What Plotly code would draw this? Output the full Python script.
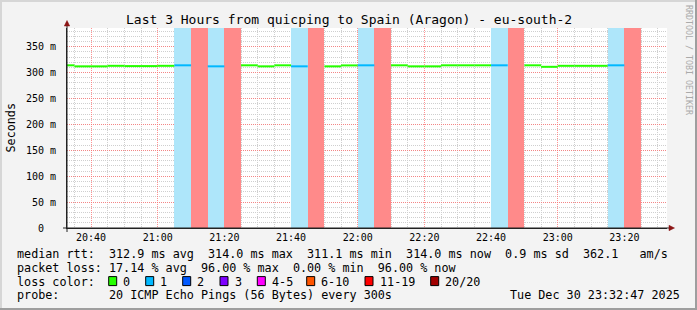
import plotly.graph_objects as go
import pandas as pd

# ---------------- data ----------------
STEP_START = [
    "2025-12-30 20:30", "2025-12-30 20:35", "2025-12-30 20:40", "2025-12-30 20:45",
    "2025-12-30 20:50", "2025-12-30 20:55", "2025-12-30 21:00", "2025-12-30 21:05",
    "2025-12-30 21:10", "2025-12-30 21:15", "2025-12-30 21:20", "2025-12-30 21:25",
    "2025-12-30 21:30", "2025-12-30 21:35", "2025-12-30 21:40", "2025-12-30 21:45",
    "2025-12-30 21:50", "2025-12-30 21:55", "2025-12-30 22:00", "2025-12-30 22:05",
    "2025-12-30 22:10", "2025-12-30 22:15", "2025-12-30 22:20", "2025-12-30 22:25",
    "2025-12-30 22:30", "2025-12-30 22:35", "2025-12-30 22:40", "2025-12-30 22:45",
    "2025-12-30 22:50", "2025-12-30 22:55", "2025-12-30 23:00", "2025-12-30 23:05",
    "2025-12-30 23:10", "2025-12-30 23:15", "2025-12-30 23:20",
]
MEDIAN_MS = [
    314.0, 312.0, 312.0, 313.0, 312.5, 312.5, 313.0, 314.0,
    None, 312.0, None, 314.0, 312.0, 314.0, 312.0, None,
    312.0, 313.8, 314.0, None, 314.0, 312.0, 312.0, 314.0,
    314.0, 314.0, 314.0, None, 314.0, 311.1, 313.0, 313.0,
    313.0, 314.0, None,
]
LOSS_PCT = [
    0, 0, 0, 0, 0, 0, 0, 5,
    96, 5, 96, 0, 0, 0, 5, 96,
    0, 0, 5, 96, 0, 0, 0, 0,
    0, 0, 5, 96, 0, 0, 0, 0,
    0, 5, 96,
]
X_START = "2025-12-30 20:32:47"
X_END = "2025-12-30 23:32:47"
Y_TOP = 386

Y_TICKS = [0, 50, 100, 150, 200, 250, 300, 350]
Y_TICKTEXT = ["0\u00a0\u00a0", "50 m", "100 m", "150 m", "200 m", "250 m", "300 m", "350 m"]

LOSS_LABELS = ["0", "1", "2", "3", "4-5", "6-10", "11-19", "20/20"]
LOSS_COLORS = ["#26ff00", "#00b8ff", "#0059ff", "#7e00ff", "#ff00ff", "#ff5500", "#ff0000", "#a10000"]

TITLE = "Last 3 Hours from quicping to Spain (Aragon) - eu-south-2"
LINE_RTT = "median rtt:  312.9 ms avg  314.0 ms max  311.1 ms min  314.0 ms now  0.9 ms sd  362.1   am/s"
LINE_LOSS = "packet loss: 17.14 % avg  96.00 % max  0.00 % min  96.00 % now"
LINE_PROBE = "probe:       20 ICMP Echo Pings (56 Bytes) every 300s"
DATE_TEXT = "Tue Dec 30 23:32:47 2025"

# ---------------- helpers ----------------
L, T, W, H = 67, 28, 600, 200
FONT = "DejaVu Sans Mono"


def px(x):
    return (x - L) / W


def py(y):
    return (T + H - y) / H


def nb(s):
    return s.replace(" ", "\u00a0")


def loss_index(p):
    n = round(p / 100 * 20)
    if n <= 0:
        return 0
    if n == 1:
        return 1
    if n == 2:
        return 2
    if n == 3:
        return 3
    if n <= 5:
        return 4
    if n <= 10:
        return 5
    if n <= 19:
        return 6
    return 7


LIGHT = {1: "#aee6fa", 6: "#ff8a8a"}

starts = pd.to_datetime(STEP_START)
ends = starts + pd.Timedelta(minutes=5)
centers = starts + pd.Timedelta(seconds=150)

fig = go.Figure()

# loss background bars
bx, bc = [], []
for c, p in zip(centers, LOSS_PCT):
    if p > 0:
        bx.append(c)
        bc.append(LIGHT.get(loss_index(p), "#ff8a8a"))
fig.add_trace(go.Bar(x=bx, y=[Y_TOP] * len(bx), width=300000, marker=dict(color=bc, line=dict(width=0)),
                     hoverinfo="skip", showlegend=False))

# median line, one trace per loss colour
groups = {}
for s, e, v, p in zip(starts, ends, MEDIAN_MS, LOSS_PCT):
    if v is None:
        continue
    k = loss_index(p)
    gx, gy = groups.setdefault(k, ([], []))
    gx += [s, e, None]
    gy += [v, v, None]
for k, (gx, gy) in groups.items():
    fig.add_trace(go.Scatter(x=gx, y=gy, mode="lines", line=dict(color=LOSS_COLORS[k], width=2),
                             hoverinfo="skip", showlegend=False))

GRID = "#cfcfcf"
MGRID = "rgba(255,110,110,0.75)"

fig.update_layout(
    width=697, height=310,
    margin=dict(l=L, r=697 - L - W, t=T, b=310 - T - H, pad=0),
    paper_bgcolor="#f3f3f3", plot_bgcolor="#ffffff",
    showlegend=False, barmode="overlay", bargap=0,
    font=dict(family=FONT, size=10, color="#000000"),
)
fig.update_xaxes(
    type="date", range=[X_START, X_END], tickformat="%H:%M",
    tick0="2025-12-30 20:40", dtick=1200000,
    showgrid=True, gridcolor=MGRID, griddash="1px,1px", gridwidth=1,
    minor=dict(dtick=300000, showgrid=True, gridcolor=GRID, griddash="1px,1px", gridwidth=1),
    showline=True, linecolor="#222222", linewidth=1, zeroline=False, ticks="",
    tickfont=dict(family=FONT, size=10, color="#000000"), fixedrange=True,
)
fig.update_yaxes(
    range=[0, Y_TOP], tickvals=Y_TICKS, ticktext=Y_TICKTEXT,
    showgrid=True, gridcolor=MGRID, griddash="1px,1px", gridwidth=1,
    minor=dict(dtick=10, showgrid=True, gridcolor=GRID, griddash="1px,1px", gridwidth=1),
    showline=True, linecolor="#222222", linewidth=1, zeroline=False, ticks="",
    ticklabelstandoff=8,
    tickfont=dict(family=FONT, size=10, color="#000000"), fixedrange=True,
)

shapes = []
# frame 3D border
shapes.append(dict(type="rect", xref="paper", yref="paper", x0=px(0), x1=px(697), y0=py(0), y1=py(2),
                   fillcolor="#d6d6d6", line=dict(width=0), layer="above"))
shapes.append(dict(type="rect", xref="paper", yref="paper", x0=px(0), x1=px(2), y0=py(0), y1=py(310),
                   fillcolor="#d6d6d6", line=dict(width=0), layer="above"))
shapes.append(dict(type="rect", xref="paper", yref="paper", x0=px(695), x1=px(697), y0=py(0), y1=py(310),
                   fillcolor="#9e9e9e", line=dict(width=0), layer="above"))
shapes.append(dict(type="rect", xref="paper", yref="paper", x0=px(0), x1=px(697), y0=py(308), y1=py(310),
                   fillcolor="#9e9e9e", line=dict(width=0), layer="above"))
# axis extensions
shapes.append(dict(type="line", xref="paper", yref="paper", x0=px(67), x1=px(67), y0=py(22), y1=py(232),
                   line=dict(color="#222222", width=1), layer="above"))
shapes.append(dict(type="line", xref="paper", yref="paper", x0=px(63), x1=px(671), y0=py(228), y1=py(228),
                   line=dict(color="#222222", width=1), layer="above"))
# arrows
shapes.append(dict(type="path", xref="paper", yref="paper",
                   path=f"M {px(64.3)},{py(26)} L {px(67)},{py(20.5)} L {px(69.7)},{py(26)} Z",
                   fillcolor="#8b1414", line=dict(color="#8b1414", width=0.5), layer="above"))
shapes.append(dict(type="path", xref="paper", yref="paper",
                   path=f"M {px(669)},{py(225.3)} L {px(674.5)},{py(228)} L {px(669)},{py(230.7)} Z",
                   fillcolor="#8b1414", line=dict(color="#8b1414", width=0.5), layer="above"))

# loss colour boxes
BOX_X = [108.7, 145.7, 182.7, 220.0, 257.3, 306.7, 365.0, 430.7]
for bxp, col in zip(BOX_X, LOSS_COLORS):
    shapes.append(dict(type="rect", xref="paper", yref="paper", x0=px(bxp), x1=px(bxp + 8),
                       y0=py(285.6), y1=py(276.6), fillcolor=col, line=dict(color="#000000", width=1),
                       layer="above"))
fig.update_layout(shapes=shapes)

ann = []


def text(x, y, s, size=11.75, xanchor="left", color="#000000", angle=0):
    ann.append(dict(xref="paper", yref="paper", x=px(x), y=py(y), text=nb(s), showarrow=False,
                    xanchor=xanchor, yanchor="middle", borderpad=0, textangle=angle,
                    font=dict(family=FONT, size=size, color=color)))


text(348.5, 19.5, TITLE, size=13, xanchor="center")
text(15.5, 254.2, LINE_RTT)
text(15.5, 267.9, LINE_LOSS)
text(15.5, 281.6, "loss color:")
for bxp, lab in zip(BOX_X, LOSS_LABELS):
    text(bxp + 13.6, 281.6, lab)
text(15.5, 295.3, LINE_PROBE)
text(680.5, 295.3, DATE_TEXT, xanchor="right")
text(10.5, 128, "Seconds", size=11.75, xanchor="center", angle=-90)
text(689, 60, "RRDTOOL / TOBI OETIKER", size=8.3, xanchor="center", color="#aaaaaa", angle=90)
fig.update_layout(annotations=ann)

fig.write_html("out.html", config={"displayModeBar": False})
